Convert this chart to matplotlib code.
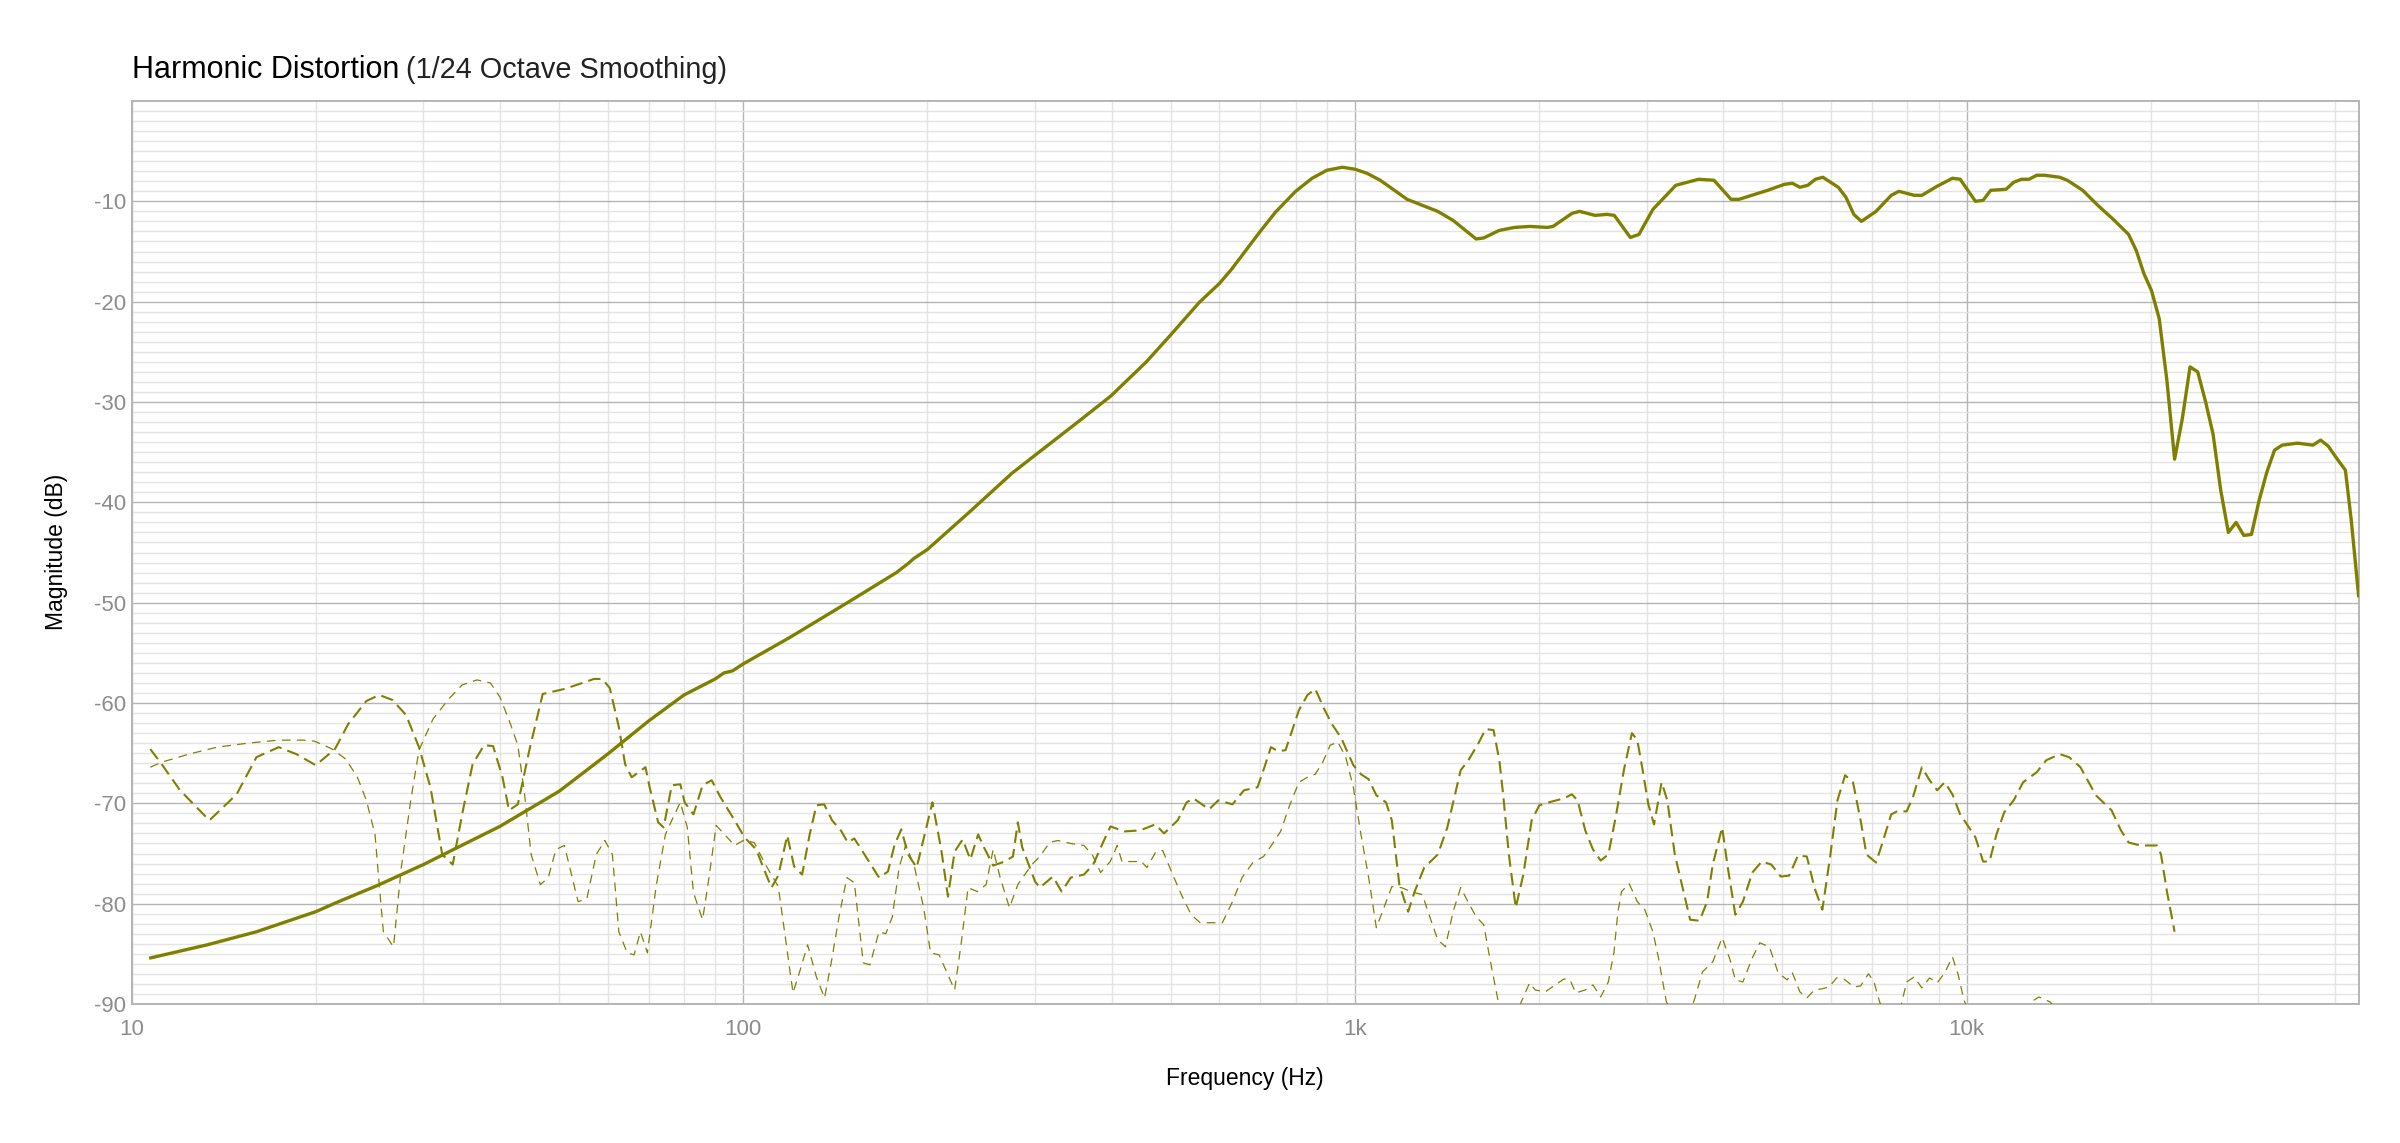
import matplotlib
matplotlib.use("Agg")
import matplotlib.pyplot as plt

plt.rcParams['font.family'] = ['Liberation Sans', 'DejaVu Sans']

# ---------------- data ----------------
fund_freq = [10.75, 13.3, 16.0, 20.0, 21.6, 25.2, 30.0, 34.1, 40.0, 50.0, 60.0, 70.0, 80.0, 90.0, 93.0, 96.0,
             100.0, 118.9, 148, 178, 186, 190, 200, 233, 275, 300, 354, 399, 456, 500, 556, 600, 628, 700,
             741, 800, 851, 900, 954, 1000, 1046, 1100, 1217, 1366, 1447, 1578, 1624, 1721, 1823, 1932,
             2062, 2108, 2264, 2330, 2469, 2581, 2655, 2820, 2913, 3070, 3347, 3647, 3864, 4120, 4245,
             4730, 5040, 5190, 5340, 5500, 5660, 5820, 6170, 6350, 6540, 6730, 7110, 7530, 7750, 8210,
             8450, 8950, 9480, 9760, 10340, 10640, 10950, 11600, 11940, 12290, 12650, 13020, 13400, 14200,
             14610, 15480, 16390, 16870, 17370, 18400, 18940, 19490, 20060, 20650, 21260, 21880, 22520,
             23190, 23870, 24570, 25290, 26030, 26790, 27580, 28390, 29220, 30080, 30960, 31870, 32800,
             34750, 36830, 37910, 39020, 40160, 41620, 42550, 43740]
fund_db = [-85.4, -84.1, -82.8, -80.8, -79.9, -78.2, -76.1, -74.4, -72.3, -68.8, -65.1, -61.8, -59.2, -57.6, -57.0, -56.8,
           -56.1, -53.5, -50.0, -47.0, -46.1, -45.6, -44.7, -41.1, -37.1, -35.3, -31.9, -29.4, -26.0, -23.3, -20.1, -18.2, -16.8, -13.0,
           -11.1, -9.0, -7.7, -6.9, -6.6, -6.8, -7.2, -7.9, -9.8, -11.0, -11.9, -13.75, -13.65, -12.9, -12.6, -12.5,
           -12.6, -12.5, -11.2, -11.0, -11.4, -11.3, -11.4, -13.6, -13.3, -10.8, -8.4, -7.8, -7.9, -9.8, -9.8,
           -8.9, -8.3, -8.2, -8.6, -8.4, -7.8, -7.6, -8.6, -9.6, -11.3, -12.0, -11.0, -9.4, -9.0, -9.4,
           -9.4, -8.5, -7.7, -7.8, -10.0, -9.9, -8.9, -8.8, -8.1, -7.8, -7.8, -7.4, -7.4, -7.6,
           -7.9, -8.9, -10.4, -11.1, -11.8, -13.3, -14.9, -17.2, -18.9, -21.7, -27.9, -35.7, -31.7,
           -26.5, -27.0, -29.9, -33.2, -38.8, -43.0, -42.0, -43.3, -43.2, -39.8, -37.0, -34.8, -34.3,
           -34.1, -34.3, -33.8, -34.4, -35.5, -36.8, -41.8, -49.3]

h2_freq = [10.73, 11.2, 12.0, 13.4, 14.85, 16.0, 17.4, 18.6, 20.0, 21.5, 22.6, 24.2, 25.4, 26.7, 28.1, 29.5,
           30.8, 32.2, 33.5, 34.7, 36.1, 37.7, 39.0, 40.4, 41.4, 42.8, 44.7, 47.0, 51.0, 54.6, 57.0, 58.8,
           60.5, 62.6, 64.1, 65.7, 69.2, 70.3, 72.6, 74.1, 76.4, 78.9, 80.2, 82.9, 85.8, 88.8, 91.8, 96.8,
           100.5, 105, 107.5, 111.2, 114.1, 118.0, 121.1, 124.8, 128.4, 131.7, 135.6, 139.7, 144.4, 148.2,
           151.9, 157.1, 166.7, 172.4, 176.8, 181.3, 186.0, 192.1, 203.8, 210.7, 216.1, 221.6, 228.4, 235.1,
           242.1, 247.5, 256.2, 267.5, 276.0, 281.1, 285.8, 300, 305.4, 320.7, 331.6, 343.1, 360.6, 373.3,
           389.4, 398.5, 419.4, 445.2, 471.7, 487.5, 513.0, 530.7, 544.4, 577.6, 597.9, 630.6, 658.5, 693.0,
           711.3, 728.8, 748.4, 770.1, 810.0, 836.5, 861.5, 889, 917, 950, 994, 1023, 1053, 1084, 1124,
           1149, 1182, 1222, 1252, 1298, 1366, 1416, 1489, 1533, 1589, 1636, 1685, 1722, 1747, 1785, 1832,
           1885, 1945, 2002, 2075, 2198, 2262, 2312, 2380, 2450, 2522, 2596, 2674, 2754, 2837, 2895, 2948,
           3018, 3083, 3172, 3241, 3334, 3433, 3532, 3660, 3765, 3846, 3984, 4070, 4187, 4308, 4464, 4625,
           4794, 4969, 5128, 5300, 5480, 5640, 5810, 5980, 6150, 6330, 6520, 6710, 6860, 7110, 7270, 7530,
           7700, 7980, 8170, 8450, 8700, 8950, 9210, 9480, 9760, 10040, 10340, 10640, 10900, 11190, 11520,
           11940, 12370, 13020, 13500, 14200, 14710, 15350, 16270, 17260, 17880, 18400, 19230, 20480, 20790,
           21260, 21880]
h2_db = [-64.6, -66.1, -68.7, -71.7, -69.1, -65.4, -64.4, -65.1, -66.2, -64.6, -62.1, -59.8, -59.2, -59.7, -61.2, -64.4,
         -68.4, -75.1, -76.1, -71.1, -66.1, -64.2, -64.3, -67.4, -70.7, -70.1, -64.7, -59.1, -58.6, -58.0, -57.6, -57.6,
         -58.5, -62.4, -66.1, -67.4, -66.4, -68.4, -71.9, -72.4, -68.2, -68.1, -69.9, -71.1, -68.2, -67.7, -69.4, -71.7,
         -73.4, -74.6, -76.2, -78.4, -77.2, -73.2, -76.3, -77.1, -73.1, -70.2, -70.1, -71.7, -72.7, -73.9,
         -73.5, -74.9, -77.4, -76.8, -74.1, -72.6, -75.1, -76.4, -69.9, -74.6, -79.3, -74.8, -73.6, -75.6,
         -73.1, -74.4, -76.2, -75.8, -75.3, -71.9, -74.4, -77.8, -78.4, -77.3, -78.8, -77.4, -77.1, -76.1,
         -73.6, -72.3, -72.8, -72.7, -72.1, -73.0, -71.7, -69.9, -69.5, -70.6, -69.7, -70.1, -68.7, -68.4,
         -66.4, -64.4, -64.8, -64.7, -60.7, -59.2, -58.6, -60.5, -62.1, -63.5, -66.2, -67.1, -67.6, -69.2, -69.9,
         -71.7, -78.1, -80.8, -78.8, -76.4, -75.1, -72.4, -66.7, -65.7, -64.1, -62.6, -62.7, -65.7, -69.1, -75.1, -80.4,
         -77.1, -71.7, -70.2, -69.9, -69.5, -69.1, -69.7, -72.7, -74.6, -75.7, -75.1, -71.1, -66.6, -63.0, -63.7, -66.4,
         -70.1, -72.1, -67.9, -69.7, -75.1, -78.4, -81.6, -81.7, -79.8, -76.1, -72.4, -76.4, -81.1, -79.8, -76.9, -75.8,
         -76.1, -77.3, -77.2, -75.2, -75.3, -78.4, -80.6, -75.4, -69.7, -67.2, -67.9, -71.7, -75.1, -75.9, -74.1, -71.1,
         -70.8, -70.8, -69.4, -66.4, -67.7, -68.7, -67.9, -69.1, -71.1, -72.2, -73.4, -75.8, -75.8, -73.1, -70.9,
         -69.7, -67.9, -66.9, -65.7, -65.1, -65.4, -66.4, -69.2, -70.7, -72.7, -73.9, -74.2, -74.2, -75.1,
         -78.8, -82.8]

h3_freq = [10.73, 11.2, 12.4, 13.8, 15.5, 17.4, 19.1, 19.9, 21.3, 22.4, 23.4, 24.2, 25.0, 25.4, 25.8, 26.8,
           27.6, 28.6, 29.5, 31.1, 33.0, 34.7, 36.7, 38.6, 40.0, 41.4, 42.8, 43.9, 45.0, 46.6, 48.0, 49.4,
           51.0, 53.7, 55.5, 57.5, 59.4, 61.1, 62.6, 64.6, 66.3, 67.9, 69.7, 72.1, 74.6, 76.4, 78.9, 81.0,
           82.9, 85.8, 87.9, 90.3, 93.5, 96.8, 100, 104.2, 108.7, 114.1, 117.0, 120.6, 124.2, 127.4, 131.7,
           135.8, 139.7, 143.3, 147.7, 151.9, 157.1, 161.1, 166.7, 171.0, 175.3, 179.8, 184.4, 190.6, 197.2,
           202.4, 209.0, 216.1, 221.6, 227.3, 233.1, 241.3, 249.5, 256.2, 263.0, 272.4, 281.1, 296.3, 305.4,
           316.9, 326.7, 343.1, 360.6, 371.9, 383.9, 398.0, 408.6, 416.0, 433.2, 447.5, 457.0, 472.0, 485.0,
           506.0, 523.0, 539.9, 558.5, 577.6, 607.2, 630.6, 654.0, 681.0, 709.0, 732.0, 756.0, 782.0, 810.0,
           836, 861, 886, 911, 938, 966, 994, 1023, 1053, 1084, 1115, 1149, 1191, 1235, 1289, 1327, 1366,
           1406, 1447, 1489, 1533, 1578, 1624, 1661, 1698, 1722, 1790, 1870, 1930, 1971, 2047, 2124, 2198,
           2247, 2296, 2380, 2450, 2522, 2596, 2652, 2690, 2728, 2807, 2895, 2978, 3070, 3135, 3230, 3280,
           3430, 3596, 3700, 3846, 3984, 4105, 4187, 4308, 4464, 4590, 4760, 4920, 5090, 5190, 5340, 5480,
           5640, 5790, 5960, 6130, 6300, 6540, 6710, 6910, 7050, 7200, 7260, 7530, 7810, 7980, 8210, 8450,
           8700, 8950, 9210, 9480, 9690, 9900, 10040, 10500, 11500, 12300, 12740, 13130, 13700, 13890, 14200]
h3_db = [-66.4, -65.9, -65.1, -64.4, -64.0, -63.7, -63.7, -63.8, -64.6, -65.6, -67.4, -69.7, -73.1, -78.1, -82.8, -84.3,
         -76.4, -69.7, -64.7, -61.6, -59.6, -58.2, -57.7, -58.0, -59.4, -61.7, -64.2, -69.1, -75.1, -78.1, -77.4, -74.6,
         -74.2, -79.8, -79.5, -75.1, -73.7, -75.1, -82.8, -84.9, -85.1, -82.8, -84.9, -78.1, -73.1, -71.7, -69.9, -72.4,
         -78.9, -81.6, -77.4, -72.2, -73.2, -74.2, -73.7, -73.9, -76.1, -78.3, -83.1, -88.9, -86.4, -84.1, -87.3,
         -89.4, -85.4, -81.4, -77.4, -77.9, -85.9, -86.1, -82.8, -83.0, -81.3, -76.4, -74.1, -76.4, -80.4,
         -84.9, -85.1, -87.1, -88.6, -83.8, -78.4, -78.8, -78.1, -74.6, -77.4, -80.4, -78.1, -76.1, -75.3,
         -73.9, -73.7, -74.0, -74.2, -75.1, -76.9, -75.8, -74.2, -75.8, -75.8, -75.8, -76.4, -74.9, -74.7,
         -77.4, -79.4, -81.1, -81.9, -81.9, -81.9, -79.8, -77.4, -75.9, -75.3, -74.1, -72.8, -70.2, -67.9,
         -67.4, -67.1, -65.9, -64.2, -63.9, -65.4, -68.4, -73.1, -77.4, -82.4, -80.4, -78.3, -78.4, -78.8, -79.1, -81.4, -83.6,
         -84.3, -80.8, -78.4, -79.9, -81.3, -82.1, -85.4, -88.4, -90.3, -93.0, -89.8, -87.9, -88.6, -88.8, -88.1, -87.5,
         -87.6, -88.9, -88.6, -88.1, -89.3, -87.8, -84.8, -80.9, -78.8, -78.0, -79.8, -80.6, -82.8, -85.4, -89.8, -90.5,
         -93.0, -89.4, -86.8, -85.8, -83.4, -85.6, -87.6, -87.8, -85.4, -83.9, -84.3, -86.9, -87.6, -86.9, -88.8, -89.4,
         -88.6, -88.5, -88.3, -87.4, -87.5, -88.3, -88.2, -87.0, -87.7, -89.7, -90.3, -92.0, -90.2, -87.8, -87.3, -88.4,
         -87.4, -87.9, -86.9, -85.3, -87.1, -89.6, -90.5, -93.0, -94.0, -93.0, -89.8, -89.3, -89.8, -90.3, -92.0]

x_ticks = [10, 100, 1000, 10000]
x_tick_labels = ["10", "100", "1k", "10k"]
y_ticks = [-90, -80, -70, -60, -50, -40, -30, -20, -10]
y_tick_labels = ["-90", "-80", "-70", "-60", "-50", "-40", "-30", "-20", "-10"]

# ---------------- figure ----------------
W, H = 2400, 1143
fig = plt.figure(figsize=(24, 11.43), dpi=100)
L, R, T, B = 131.6, 2358.6, 101, 1004
ax = fig.add_axes([L / W, 1 - B / H, (R - L) / W, (B - T) / H])

olive = '#808000'
ax.plot(h3_freq, h3_db, color=olive, lw=0.9, linestyle=(0, (7, 5)), zorder=3)
ax.plot(h2_freq, h2_db, color=olive, lw=1.5, linestyle=(0, (6, 3)), zorder=4)
ax.plot(fund_freq, fund_db, color=olive, lw=2.4, solid_joinstyle='round', zorder=5)

ax.set_xscale('log')
ax.set_xlim(10, 43740)
ax.set_ylim(-90, 0)

minor_x = [m * d for d in (10, 100, 1000, 10000) for m in range(2, 10) if m * d < 43740]
ax.set_xticks(x_ticks, labels=x_tick_labels)
ax.set_xticks(minor_x, minor=True)
ax.set_yticks(y_ticks, labels=y_tick_labels)
ax.set_yticks([v for v in range(-90, 1) if v % 10 != 0], minor=True)
ax.xaxis.set_minor_formatter(matplotlib.ticker.NullFormatter())

ax.grid(which='major', color='#b5b5b5', lw=1.0)
ax.grid(which='minor', color='#e3e3e3', lw=1.0)
ax.set_axisbelow(True)

ax.tick_params(which='both', length=0)
ax.tick_params(axis='both', labelsize=16, labelcolor='#8c8c8c')
ax.tick_params(axis='x', pad=11)
ax.tick_params(axis='y', pad=4)

for s in ax.spines.values():
    s.set_color('#b5b5b5')
    s.set_linewidth(1.4)

# Title in two weights
t1 = fig.text(L / W, 1 - 78 / H, "Harmonic Distortion", fontsize=22, color='#000000',
              ha='left', va='baseline')
fig.canvas.draw()
bb = t1.get_window_extent(renderer=fig.canvas.get_renderer())
fig.text(bb.x1 / W + 7 / W, 1 - 78 / H, "(1/24 Octave Smoothing)", fontsize=20.8, color='#222222',
         ha='left', va='baseline')

fig.text((L + R) / 2 / W, 1 - 1085 / H, "Frequency (Hz)", fontsize=16.5, color='black',
         ha='center', va='baseline')
fig.text(57 / W, 1 - 552 / H, "Magnitude (dB)", fontsize=16.5, color='black',
         rotation=90, ha='center', va='center')

fig.savefig('out.png', dpi=100)
